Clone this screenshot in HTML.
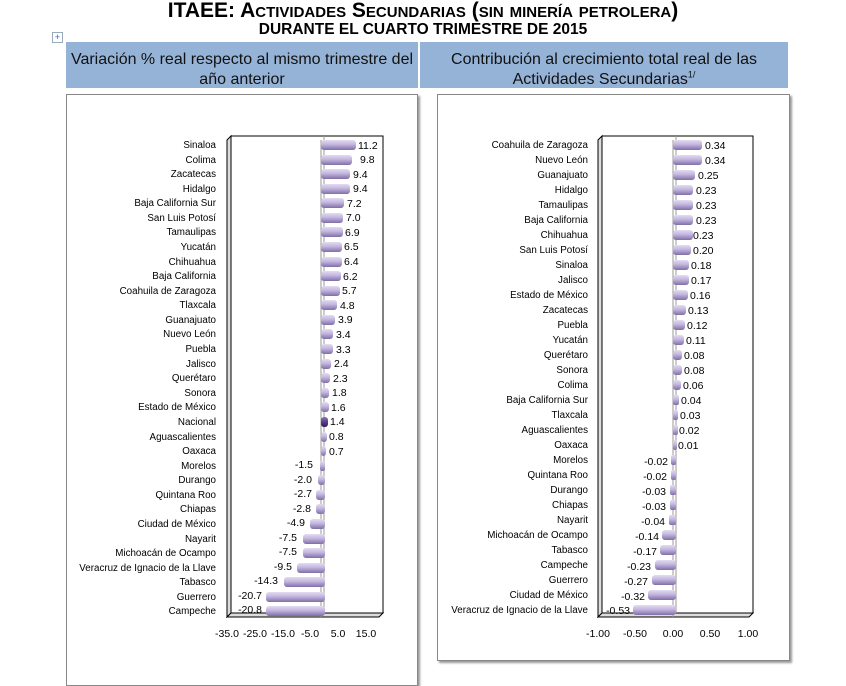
<!DOCTYPE html>
<html><head><meta charset="utf-8"><style>
body{margin:0;width:846px;height:671px;background:#fff;overflow:hidden;font-family:"Liberation Sans",sans-serif;position:relative}
.t1{position:absolute;top:-1px;left:0;width:846px;text-align:center;font-weight:bold;font-size:21px;font-variant:small-caps;letter-spacing:0}
.t2{position:absolute;top:21px;left:0;width:846px;text-align:center;font-weight:bold;font-size:15.5px}
.hd{position:absolute;top:42px;height:46px;background:#95b3d7;text-align:center;font-size:16px;line-height:20px;color:#111;padding-top:8px;box-sizing:border-box}
.pn{position:absolute;top:94px;border:1px solid #888;box-shadow:2px 2px 2px #999;background:#fff}
svg{position:absolute;left:0;top:0}
text{font-family:"Liberation Sans",sans-serif}
</style></head><body>
<div class="t1">ITAEE: Actividades Secundarias (sin minería petrolera)</div>
<div class="t2">DURANTE EL CUARTO TRIMESTRE DE 2015</div>
<div style="position:absolute;left:52px;top:32px;width:9px;height:9px;border:1px solid #9ab;font-size:9px;line-height:9px;text-align:center;color:#36c">+</div>
<div class="hd" style="left:66px;width:352px">Variación % real respecto al mismo trimestre del<br>año anterior</div>
<div class="hd" style="left:420px;width:368px">Contribución al crecimiento total real de las<br>Actividades Secundarias<sup style="font-size:9px;line-height:0">1/</sup></div>
<div class="pn" style="left:66px;width:350px;height:590px"></div>
<div class="pn" style="left:437px;width:351px;height:565px"></div>
<svg width="846" height="671">
<defs>
<linearGradient id="g" x1="0" y1="0" x2="0" y2="1"><stop offset="0" stop-color="#e4dcf0"/><stop offset=".45" stop-color="#c3b5df"/><stop offset="1" stop-color="#7f6fa6"/></linearGradient>
<linearGradient id="gd" x1="0" y1="0" x2="0" y2="1"><stop offset="0" stop-color="#8a74b4"/><stop offset=".5" stop-color="#5a3f8a"/><stop offset="1" stop-color="#2e1c52"/></linearGradient>
</defs>
<polygon points="227,617 231,613 231,136 227,140" fill="#ddd" stroke="#000"/>
<rect x="231" y="136" width="152" height="477" fill="#fff" stroke="#000"/>
<polygon points="227,617 379,617 383,613 231,613" fill="#ddd" stroke="#000"/>
<line x1="324" y1="136" x2="324" y2="613" stroke="#999"/>
<line x1="321" y1="140" x2="321" y2="617" stroke="#999"/>
<g font-size="9.8" text-anchor="end" fill="#000">
<text x="216" y="148">Sinaloa</text><text x="216" y="163">Colima</text><text x="216" y="177">Zacatecas</text><text x="216" y="192">Hidalgo</text><text x="216" y="206">Baja California Sur</text><text x="216" y="221">San Luis Potosí</text><text x="216" y="235">Tamaulipas</text><text x="216" y="250">Yucatán</text><text x="216" y="265">Chihuahua</text><text x="216" y="279">Baja California</text><text x="216" y="294">Coahuila de Zaragoza</text><text x="216" y="308">Tlaxcala</text><text x="216" y="323">Guanajuato</text><text x="216" y="337">Nuevo León</text><text x="216" y="352">Puebla</text><text x="216" y="367">Jalisco</text><text x="216" y="381">Querétaro</text><text x="216" y="396">Sonora</text><text x="216" y="410">Estado de México</text><text x="216" y="425">Nacional</text><text x="216" y="440">Aguascalientes</text><text x="216" y="454">Oaxaca</text><text x="216" y="469">Morelos</text><text x="216" y="483">Durango</text><text x="216" y="498">Quintana Roo</text><text x="216" y="512">Chiapas</text><text x="216" y="527">Ciudad de México</text><text x="216" y="542">Nayarit</text><text x="216" y="556">Michoacán de Ocampo</text><text x="216" y="571">Veracruz de Ignacio de la Llave</text><text x="216" y="585">Tabasco</text><text x="216" y="600">Guerrero</text><text x="216" y="614">Campeche</text>
</g>
<g fill="url(#g)">
<rect x="321" y="140" width="35" height="10" rx="3"/><rect x="321" y="155" width="31" height="10" rx="3"/><rect x="321" y="169" width="29" height="10" rx="3"/><rect x="321" y="184" width="29" height="10" rx="3"/><rect x="321" y="198" width="23" height="10" rx="3"/><rect x="321" y="213" width="22" height="10" rx="3"/><rect x="321" y="227" width="22" height="10" rx="3"/><rect x="321" y="242" width="21" height="10" rx="3"/><rect x="321" y="257" width="21" height="10" rx="3"/><rect x="321" y="271" width="20" height="10" rx="3"/><rect x="321" y="286" width="19" height="10" rx="3"/><rect x="321" y="300" width="16" height="10" rx="3"/><rect x="321" y="315" width="14" height="10" rx="3"/><rect x="321" y="329" width="12" height="10" rx="3"/><rect x="321" y="344" width="12" height="10" rx="3"/><rect x="321" y="359" width="10" height="10" rx="3"/><rect x="321" y="373" width="9" height="10" rx="3"/><rect x="321" y="388" width="8" height="10" rx="3"/><rect x="321" y="402" width="8" height="10" rx="3"/><rect x="321" y="417" width="7" height="10" rx="3" fill="url(#gd)"/><rect x="321" y="432" width="6" height="10" rx="3"/><rect x="321" y="446" width="5" height="10" rx="3"/>
<rect x="320" y="461" width="5" height="10" rx="2"/><rect x="318" y="475" width="7" height="10" rx="3"/><rect x="316" y="490" width="9" height="10" rx="3"/><rect x="316" y="504" width="9" height="10" rx="3"/><rect x="310" y="519" width="15" height="10" rx="3"/><rect x="303" y="534" width="22" height="10" rx="3"/><rect x="303" y="548" width="22" height="10" rx="3"/><rect x="297" y="563" width="28" height="10" rx="3"/><rect x="284" y="577" width="41" height="10" rx="3"/><rect x="266" y="592" width="59" height="10" rx="3"/><rect x="266" y="606" width="59" height="10" rx="3"/>
</g>
<g font-size="10.5" fill="#000">
<text x="358" y="149">11.2</text><text x="360" y="163">9.8</text><text x="353" y="178">9.4</text><text x="353" y="192">9.4</text><text x="347" y="207">7.2</text><text x="346" y="221">7.0</text><text x="345" y="236">6.9</text><text x="344" y="250">6.5</text><text x="344" y="265">6.4</text><text x="343" y="280">6.2</text><text x="342" y="294">5.7</text><text x="340" y="309">4.8</text><text x="338" y="323">3.9</text><text x="336" y="338">3.4</text><text x="336" y="353">3.3</text><text x="334" y="367">2.4</text><text x="333" y="382">2.3</text><text x="332" y="396">1.8</text><text x="331" y="411">1.6</text><text x="330" y="425">1.4</text><text x="329" y="440">0.8</text><text x="329" y="455">0.7</text>
<g text-anchor="end"><text x="313" y="468">-1.5</text><text x="312" y="483">-2.0</text><text x="312" y="497">-2.7</text><text x="311" y="512">-2.8</text><text x="305" y="526">-4.9</text><text x="297" y="541">-7.5</text><text x="297" y="555">-7.5</text><text x="292" y="570">-9.5</text><text x="278" y="584">-14.3</text><text x="262" y="599">-20.7</text><text x="262" y="613">-20.8</text></g>
</g>
<g font-size="10.5" text-anchor="middle"><text x="227" y="637">-35.0</text><text x="255" y="637">-25.0</text><text x="283" y="637">-15.0</text><text x="310" y="637">-5.0</text><text x="338" y="637">5.0</text><text x="366" y="637">15.0</text></g>

<polygon points="598,617 602,613 602,136 598,140" fill="#ddd" stroke="#000"/>
<rect x="602" y="136" width="151" height="477" fill="#fff" stroke="#000"/>
<polygon points="598,617 749,617 753,613 602,613" fill="#ddd" stroke="#000"/>
<line x1="676" y1="136" x2="676" y2="613" stroke="#999"/>
<line x1="673" y1="140" x2="673" y2="617" stroke="#999"/>
<g font-size="9.8" text-anchor="end">
<text x="588" y="148">Coahuila de Zaragoza</text><text x="588" y="163">Nuevo León</text><text x="588" y="178">Guanajuato</text><text x="588" y="193">Hidalgo</text><text x="588" y="208">Tamaulipas</text><text x="588" y="223">Baja California</text><text x="588" y="238">Chihuahua</text><text x="588" y="253">San Luis Potosí</text><text x="588" y="268">Sinaloa</text><text x="588" y="283">Jalisco</text><text x="588" y="298">Estado de México</text><text x="588" y="313">Zacatecas</text><text x="588" y="328">Puebla</text><text x="588" y="343">Yucatán</text><text x="588" y="358">Querétaro</text><text x="588" y="373">Sonora</text><text x="588" y="388">Colima</text><text x="588" y="403">Baja California Sur</text><text x="588" y="418">Tlaxcala</text><text x="588" y="433">Aguascalientes</text><text x="588" y="448">Oaxaca</text><text x="588" y="463">Morelos</text><text x="588" y="478">Quintana Roo</text><text x="588" y="493">Durango</text><text x="588" y="508">Chiapas</text><text x="588" y="523">Nayarit</text><text x="588" y="538">Michoacán de Ocampo</text><text x="588" y="553">Tabasco</text><text x="588" y="568">Campeche</text><text x="588" y="583">Guerrero</text><text x="588" y="598">Ciudad de México</text><text x="588" y="613">Veracruz de Ignacio de la Llave</text>
</g>
<g fill="url(#g)">
<rect x="673" y="140" width="29" height="10" rx="3"/><rect x="673" y="155" width="29" height="10" rx="3"/><rect x="673" y="170" width="22" height="10" rx="3"/><rect x="673" y="185" width="20" height="10" rx="3"/><rect x="673" y="200" width="20" height="10" rx="3"/><rect x="673" y="215" width="20" height="10" rx="3"/><rect x="673" y="230" width="20" height="10" rx="3"/><rect x="673" y="245" width="18" height="10" rx="3"/><rect x="673" y="260" width="16" height="10" rx="3"/><rect x="673" y="275" width="16" height="10" rx="3"/><rect x="673" y="290" width="15" height="10" rx="3"/><rect x="673" y="305" width="13" height="10" rx="3"/><rect x="673" y="320" width="12" height="10" rx="3"/><rect x="673" y="335" width="11" height="10" rx="3"/><rect x="673" y="350" width="9" height="10" rx="3"/><rect x="673" y="365" width="9" height="10" rx="3"/><rect x="673" y="380" width="8" height="10" rx="3"/><rect x="673" y="395" width="6" height="10" rx="2"/><rect x="673" y="410" width="5" height="10" rx="2"/><rect x="673" y="425" width="5" height="10" rx="2"/><rect x="673" y="440" width="4" height="10" rx="2"/>
<rect x="671" y="455" width="5" height="10" rx="2"/><rect x="671" y="470" width="5" height="10" rx="2"/><rect x="670" y="485" width="6" height="10" rx="2"/><rect x="670" y="500" width="6" height="10" rx="2"/><rect x="669" y="515" width="7" height="10" rx="2"/><rect x="662" y="530" width="14" height="10" rx="3"/><rect x="660" y="545" width="16" height="10" rx="3"/><rect x="655" y="560" width="21" height="10" rx="3"/><rect x="652" y="575" width="24" height="10" rx="3"/><rect x="648" y="590" width="28" height="10" rx="3"/><rect x="633" y="605" width="43" height="10" rx="3"/>
</g>
<g font-size="10.5">
<text x="705" y="149">0.34</text><text x="705" y="164">0.34</text><text x="698" y="179">0.25</text><text x="696" y="194">0.23</text><text x="696" y="209">0.23</text><text x="696" y="224">0.23</text><text x="693" y="239">0.23</text><text x="693" y="254">0.20</text><text x="691" y="269">0.18</text><text x="691" y="284">0.17</text><text x="690" y="299">0.16</text><text x="688" y="314">0.13</text><text x="687" y="329">0.12</text><text x="686" y="344">0.11</text><text x="684" y="359">0.08</text><text x="684" y="374">0.08</text><text x="683" y="389">0.06</text><text x="681" y="404">0.04</text><text x="680" y="419">0.03</text><text x="679" y="434">0.02</text><text x="678" y="449">0.01</text>
<g text-anchor="end"><text x="668" y="465">-0.02</text><text x="667" y="480">-0.02</text><text x="666" y="495">-0.03</text><text x="666" y="510">-0.03</text><text x="665" y="525">-0.04</text><text x="659" y="540">-0.14</text><text x="657" y="555">-0.17</text><text x="651" y="570">-0.23</text><text x="648" y="585">-0.27</text><text x="645" y="600">-0.32</text><text x="630" y="614">-0.53</text></g>
</g>
<g font-size="10.5" text-anchor="middle"><text x="598" y="637">-1.00</text><text x="635" y="637">-0.50</text><text x="673" y="637">0.00</text><text x="710" y="637">0.50</text><text x="748" y="637">1.00</text></g>
</svg>
</body></html>
